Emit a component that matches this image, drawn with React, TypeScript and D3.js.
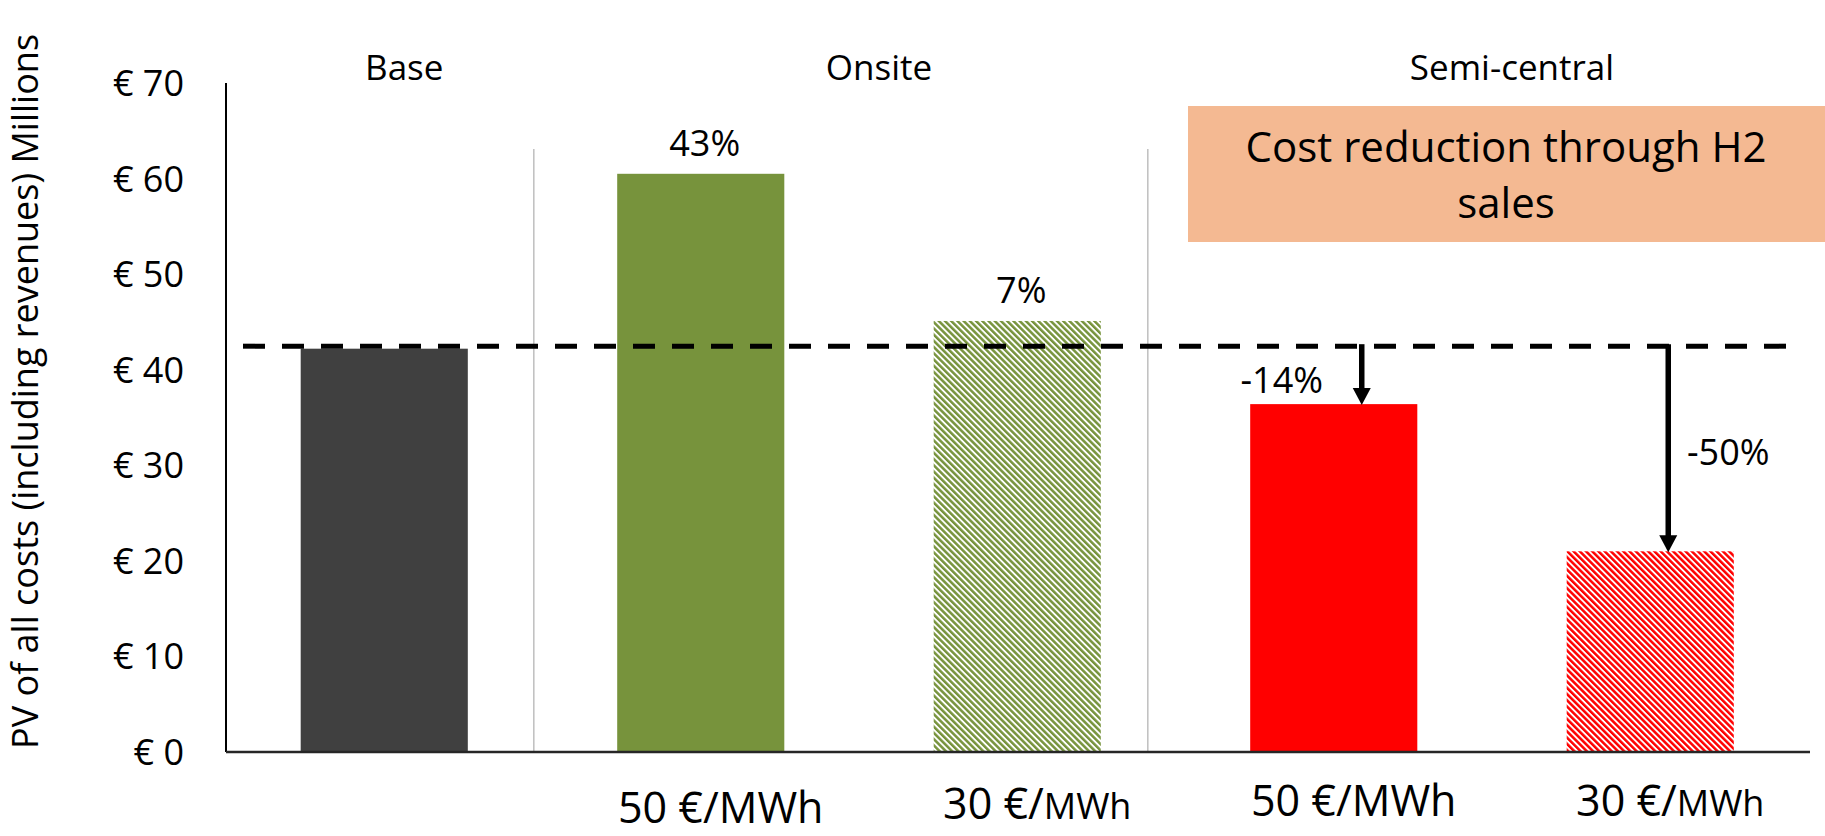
import React from "react";
import * as d3 from "d3";

// Scenario bars: present value of all costs (incl. revenues), in millions of euro
const categories = ["Base", "Onsite 50", "Onsite 30", "Semi-central 50", "Semi-central 30"];
const categoryGroups = ["Base", "Onsite", "Onsite", "Semi-central", "Semi-central"];
const groupNames = ["Base", "Onsite", "Semi-central"];
const values = [42.2, 60.5, 45.1, 36.4, 21.0];
const h2Prices = [null, 50, 30, 50, 30];
const yTicks = [0, 10, 20, 30, 40, 50, 60, 70];
const yTitle = "PV of all costs (including revenues) Millions";
const noteLines = ["Cost reduction through H2", "sales"];

const W = 1825;
const H = 836;
const FONT = "'Open Sans', sans-serif";

const GREEN = "#77933C";
const RED = "#FF0000";
const fills = ["#404040", GREEN, "url(#hatchGreen)", RED, "url(#hatchRed)"];
// how the change against the base case is annotated per bar
const annotationKind = ["none", "above", "above", "arrowLeft", "arrowRight"];

const x = d3
  .scaleBand<string>()
  .domain(categories)
  .range([226, 1808.5])
  .paddingInner(0.472)
  .paddingOuter(0.236);
const y = d3.scaleLinear().domain([0, 70]).range([752, 83]);

const pct = (v: number) => {
  const p = Math.round((v / values[0] - 1) * 100);
  return `${p}%`;
};

function Hatch({ id, color }: { id: string; color: string }) {
  return (
    <pattern id={id} width={4.4} height={4.4} patternUnits="userSpaceOnUse" patternTransform="rotate(-45)">
      <rect width={4.4} height={4.4} fill="#fff" />
      <rect width={2.5} height={4.4} fill={color} />
    </pattern>
  );
}

export default function App() {
  const bw = x.bandwidth();
  const cx = (c: string) => (x(c) as number) + bw / 2;
  const baseY = y(values[0]);
  const dashY = baseY - 2.5;

  // light separators between the scenario groups
  const sep1 = (x(categories[0]) as number) + bw + 66;
  const sep2 = (x(categories[2]) as number) + bw + 47;

  return (
    <svg
      width={W}
      height={H}
      style={{ position: "absolute", left: 0, top: 0, background: "#fff" }}
      fontFamily={FONT}
    >
      <defs>
        <Hatch id="hatchGreen" color={GREEN} />
        <Hatch id="hatchRed" color={RED} />
      </defs>

      {/* group separators */}
      {[sep1, sep2].map((sx, i) => (
        <line key={i} x1={sx} x2={sx} y1={149} y2={y(0)} stroke="#BFBFBF" strokeWidth={1.5} />
      ))}

      {/* bars */}
      {categories.map((c, i) => (
        <rect key={c} x={x(c)} y={y(values[i])} width={bw} height={y(0) - y(values[i])} fill={fills[i]} />
      ))}

      {/* axes */}
      <line x1={226} x2={226} y1={y(70)} y2={y(0)} stroke="#000" strokeWidth={2} />
      <line x1={226} x2={1810} y1={y(0)} y2={y(0)} stroke="#262626" strokeWidth={2.5} />

      {yTicks.map((t) => (
        <text key={t} x={184} y={y(t)} dy="0.36em" textAnchor="end" fontSize={36} fill="#000">
          {`€ ${t}`}
        </text>
      ))}

      <text transform="translate(38,749) rotate(-90)" fontSize={36} fill="#000" textAnchor="start">
        {yTitle}
      </text>

      {/* group headings */}
      {groupNames.map((g) => {
        const members = categories.filter((_, i) => categoryGroups[i] === g);
        const gx = d3.mean(members, (m) => cx(m)) as number;
        return (
          <text key={g} x={gx + 20} y={80} textAnchor="middle" fontSize={35} fill="#000">
            {g}
          </text>
        );
      })}

      {/* H2 price labels under the bars */}
      {categories.map((c, i) => {
        const p = h2Prices[i];
        if (p == null) return null;
        const smallUnit = p === 30;
        const by = [0, 823, 819, 816, 816][i];
        return (
          <text key={c} x={cx(c) + 20} y={by} textAnchor="middle" fontSize={43} fill="#000">
            {`${p} €/`}
            <tspan fontSize={smallUnit ? 36 : 43}>MWh</tspan>
          </text>
        );
      })}

      {/* reference level of the base case */}
      <line
        x1={243}
        x2={1790}
        y1={dashY}
        y2={dashY}
        stroke="#000"
        strokeWidth={5}
        strokeDasharray="22 17"
      />

      {/* change relative to base */}
      {categories.map((c, i) => {
        const kind = annotationKind[i];
        const top = y(values[i]);
        if (kind === "above") {
          return (
            <text key={c} x={cx(c) + 4} y={top - 18} textAnchor="middle" fontSize={36} fill="#000">
              {pct(values[i])}
            </text>
          );
        }
        if (kind === "arrowLeft" || kind === "arrowRight") {
          const ax = kind === "arrowLeft" ? cx(c) + 28 : cx(c) + 18;
          const head = 17;
          const tip = top + 1;
          return (
            <g key={c}>
              <line x1={ax} x2={ax} y1={dashY - 2} y2={tip - head + 1} stroke="#000" strokeWidth={5.5} />
              <path d={`M${ax - 9},${tip - head} L${ax + 9},${tip - head} L${ax},${tip} Z`} fill="#000" />
              {kind === "arrowLeft" ? (
                <text x={ax - 80} y={393} textAnchor="middle" fontSize={36} fill="#000">
                  {pct(values[i])}
                </text>
              ) : (
                <text x={ax + 60} y={465} textAnchor="middle" fontSize={36} fill="#000">
                  {pct(values[i])}
                </text>
              )}
            </g>
          );
        }
        return null;
      })}

      {/* note box */}
      <rect x={1188} y={106} width={W - 1188} height={136} fill="#F4B992" />
      {noteLines.map((l, i) => (
        <text key={i} x={1506} y={162 + i * 56} textAnchor="middle" fontSize={42} fill="#000">
          {l}
        </text>
      ))}
    </svg>
  );
}
